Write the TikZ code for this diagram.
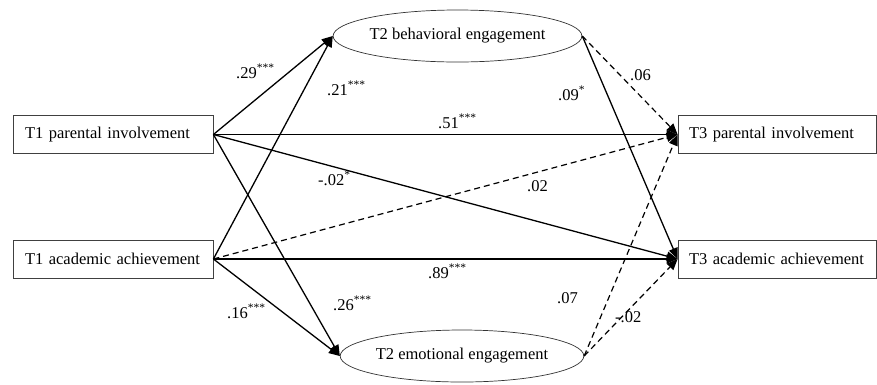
\documentclass[tikz,border=0pt]{standalone}
\usepackage{fontspec}
\setmainfont{Liberation Serif}
\usetikzlibrary{arrows.meta,shapes.geometric}
\tikzset{
  obsbox/.style={draw=black!75, line width=0.8pt, minimum width=200pt, minimum height=38pt,
    inner xsep=12pt, text width=176pt, align=left, font=\fontsize{16.5}{19}\selectfont},
  latent/.style={draw=black!80, ellipse, line width=0.7pt, minimum width=209pt, minimum height=52pt,
    inner sep=0pt, font=\fontsize{16.5}{19}\selectfont},
  sig/.style={line width=1.3pt, -{Triangle[length=11pt,width=9pt]}},
  nsig/.style={line width=1.2pt, dash pattern=on 6pt off 4pt, -{Triangle[length=11pt,width=9pt]}},
  coef/.style={anchor=base west, inner sep=0pt, font=\fontsize{16.5}{19}\selectfont}
}
\begin{document}
\begin{tikzpicture}[x=1pt, y=-1pt]
\useasboundingbox (0,0) rectangle (877,384);
% observed variables
\node[obsbox] (p1) at (113,134.5) {T1 parental involvement};
\node[obsbox] (a1) at (113,259) {T1 academic achievement};
\node[obsbox, minimum width=198pt, inner xsep=11pt] (p3) at (777,134.5) {T3 parental involvement};
\node[obsbox, minimum width=198pt, inner xsep=11pt] (a3) at (777,259) {T3 academic achievement};
% latent engagement
\node[latent] (be) at (457.5,36) {T2 behavioral engagement};
\node[latent, minimum width=210pt] (em) at (462,356) {T2 emotional engagement};
% paths
\foreach \a/\b/\s in {p1/be/sig, a1/be/sig, p1/em/sig, a1/em/sig,
                      p1/p3/sig, p1/a3/sig, a1/p3/nsig, a1/a3/sig,
                      be/p3/nsig, be/a3/sig, em/p3/nsig, em/a3/nsig}
  \draw[\s] (\a.east) -- (\b.west);
% coefficients
\foreach \x/\y/\lab in {236/78/.29\textsuperscript{***}, 327/95/.21\textsuperscript{***},
                        318/185/-.02\textsuperscript{*}, 438/128/.51\textsuperscript{***},
                        527/191/.02, 630/80/.06, 558/100/.09\textsuperscript{*},
                        428/278/.89\textsuperscript{***}, 227/318/.16\textsuperscript{***},
                        333/310/.26\textsuperscript{***}, 557/303/.07, 615/322/-.02}
  \node[coef] at (\x,\y) {\lab};
\end{tikzpicture}
\end{document}
